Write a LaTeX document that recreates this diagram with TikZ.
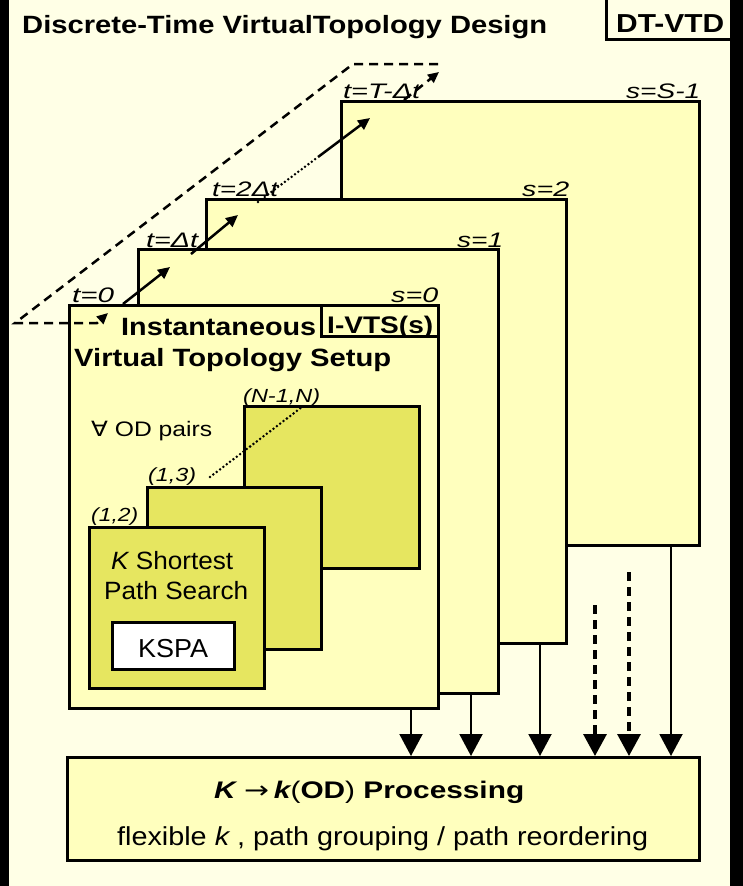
\documentclass[tikz,border=0pt]{standalone}
\usepackage{fontspec}
\setmainfont{Liberation Sans}
\newfontfamily\symfont{DejaVu Sans}
\usepackage{graphicx}
\usetikzlibrary{arrows.meta}
\definecolor{bgcream}{RGB}{255,255,230}
\definecolor{boxfill}{RGB}{255,255,190}
\definecolor{olivefill}{RGB}{230,230,96}
\newcommand{\fitw}[2]{\resizebox{#1}{\height}{#2}}
\newcommand{\fsz}[1]{\fontsize{#1}{#1}\selectfont}
\begin{document}
\begin{tikzpicture}[x=1pt,y=-1pt,
  stagebox/.style={draw=black,line width=2.5pt,fill=boxfill,rectangle,inner sep=0pt,anchor=north west},
  odbox/.style={stagebox,fill=olivefill},
  txt/.style={inner sep=0pt,anchor=base west},
  bigarrow/.style={line width=2pt,-{Triangle[width=23pt,length=22pt]}},
  dasharrow/.style={line width=3.3pt,dash pattern=on 9pt off 6pt,-{Triangle[width=23pt,length=22pt]}},
  diagarrow/.style={line width=2.5pt,-{Triangle[width=11pt,length=12pt]}},
  loopline/.style={line width=2.5pt,dash pattern=on 9pt off 6pt},
  dotline/.style={line width=2.8pt,line cap=round,dash pattern=on 0pt off 4.2pt}
]
\useasboundingbox (0,0) rectangle (743,886);
\fill[bgcream] (0,0) rectangle (743,886);

% header
\node[draw=black,line width=2.5pt,rectangle,inner sep=0pt,anchor=north west,minimum width=135pt,minimum height=45pt,fill=bgcream] (dtbox) at (605,-7) {};
\node[txt] (title) at (22,33) {\fitw{525pt}{\fsz{25}\bfseries Discrete-Time VirtualTopology Design}};
\node[txt] (dtvtd) at (616,32) {\fitw{108pt}{\fsz{26}\bfseries DT-VTD}};

% stage boxes
\node[stagebox,minimum width=358pt,minimum height=444pt] (sS) at (340,100) {};
\node[stagebox,minimum width=360pt,minimum height=444pt] (s2) at (205,198) {};
\node[stagebox,minimum width=360pt,minimum height=444pt] (s1) at (137,248) {};
\node[stagebox,minimum width=369pt,minimum height=403pt] (s0) at (68,304) {};
\node[stagebox,minimum width=117pt,minimum height=31pt] (ivts) at (320,304) {};

% OD pair boxes
\node[odbox,minimum width=175pt,minimum height=162pt] (pN) at (243,405) {};
\node[odbox,minimum width=174pt,minimum height=162pt] (p13) at (146,486) {};
\node[odbox,minimum width=175pt,minimum height=161pt] (p12) at (88,526) {};
\node[stagebox,fill=white,minimum width=122pt,minimum height=47pt] (kspa) at (111,621) {};

% processing box
\node[stagebox,minimum width=632pt,minimum height=103pt] (proc) at (66,756) {};

% labels on stage boxes
\node[txt] (tT) at (343,98) {\fitw{77pt}{\fsz{21}\itshape t=T-Δt}};
\node[txt] (sSl) at (626,98) {\fitw{74pt}{\fsz{21}\itshape s=S-1}};
\node[txt] (s2l) at (522,196) {\fitw{47pt}{\fsz{21}\itshape s=2}};
\node[txt] (t2l) at (212,196) {\fitw{66pt}{\fsz{21}\itshape t=2Δt}};
\node[txt] (t1l) at (146,247) {\fitw{52pt}{\fsz{21}\itshape t=Δt}};
\node[txt] (s1l) at (457,247) {\fitw{46pt}{\fsz{21}\itshape s=1}};
\node[txt] (t0l) at (72,302) {\fitw{42pt}{\fsz{21}\itshape t=0}};
\node[txt] (s0l) at (391,302) {\fitw{47pt}{\fsz{21}\itshape s=0}};

% front box texts
\node[txt] (inst) at (121,335) {\fitw{195pt}{\fsz{25}\bfseries Instantaneous}};
\node[txt] (ivtsl) at (327,333) {\fitw{106pt}{\fsz{24}\bfseries I-VTS(s)}};
\node[txt] (vts) at (74,366) {\fitw{317pt}{\fsz{25}\bfseries Virtual Topology Setup}};
\node[txt] (forall) at (91,436) {\fitw{121pt}{\fsz{21}{\symfont ∀} OD pairs}};
\node[txt] (lN) at (243,402) {\fitw{77pt}{\fsz{19}\itshape (N-1,N)}};
\node[txt] (l13) at (148,481) {\fitw{48pt}{\fsz{19}\itshape (1,3)}};
\node[txt] (l12) at (91,521) {\fitw{47pt}{\fsz{19}\itshape (1,2)}};
\node[txt] (ksh) at (111,569) {\fitw{122pt}{\fsz{25}{\itshape K} Shortest}};
\node[txt] (psearch) at (104,599) {\fitw{144pt}{\fsz{25}Path Search}};
\node[txt] (kspal) at (138,657) {\fitw{70pt}{\fsz{26}KSPA}};

% processing texts
\node[txt] (proct) at (214,798) {\fitw{310pt}{\fsz{24}{\bfseries\itshape K} {\symfont →}\,{\bfseries\itshape k}({\bfseries OD}) {\bfseries Processing}}};
\node[txt] (flex) at (117,845) {\fitw{531pt}{\fsz{26}flexible {\itshape k} , path grouping / path reordering}};

% time arrows
\coordinate (a1s) at (123,304);
\coordinate (a1e) at (170,267);
\coordinate (a2s) at (191,254);
\coordinate (a2e) at (238,215);
\coordinate (d1s) at (258,202);
\coordinate (d1e) at (318,157);
\coordinate (a3e) at (370,118);
\coordinate (a4s) at (404,100);
\coordinate (a4e) at (439,72);
\draw[diagarrow] (a1s) -- (a1e);
\draw[diagarrow] (a2s) -- (a2e);
\draw[dotline] (d1s) -- (d1e);
\draw[diagarrow] (d1e) -- (a3e);
\draw[loopline,-{Triangle[width=10pt,length=11pt]}] (a4s) -- (a4e);

% wrap-around dashed line
\coordinate (w1) at (438,64);
\coordinate (w2) at (353,64);
\coordinate (w3) at (15,323);
\coordinate (w4) at (97,323);
\coordinate (w5) at (108,313);
\draw[loopline,-{Triangle[width=10pt,length=11pt]}] (w1) -- (w2) -- (w3) -- (w4) -- (w5);

% dotted line among OD boxes
\coordinate (o1) at (210,477);
\coordinate (o2) at (302,407);
\draw[dotline] (o1) -- (o2);

% arrows to processing
\draw[bigarrow] (411,0 |- s0.south) -- (411,0 |- proc.north);
\draw[bigarrow] (471,0 |- s1.south) -- (471,0 |- proc.north);
\draw[bigarrow] (540,0 |- s2.south) -- (540,0 |- proc.north);
\coordinate (v4) at (595,605);
\coordinate (v5) at (629,572);
\draw[dasharrow] (v4) -- (v4 |- proc.north);
\draw[dasharrow] (v5) -- (v5 |- proc.north);
\draw[bigarrow] (671,0 |- sS.south) -- (671,0 |- proc.north);

% black side strips
\fill[black] (0,0) rectangle (9,886);
\fill[black] (730,0) rectangle (743,886);
\end{tikzpicture}
\end{document}
